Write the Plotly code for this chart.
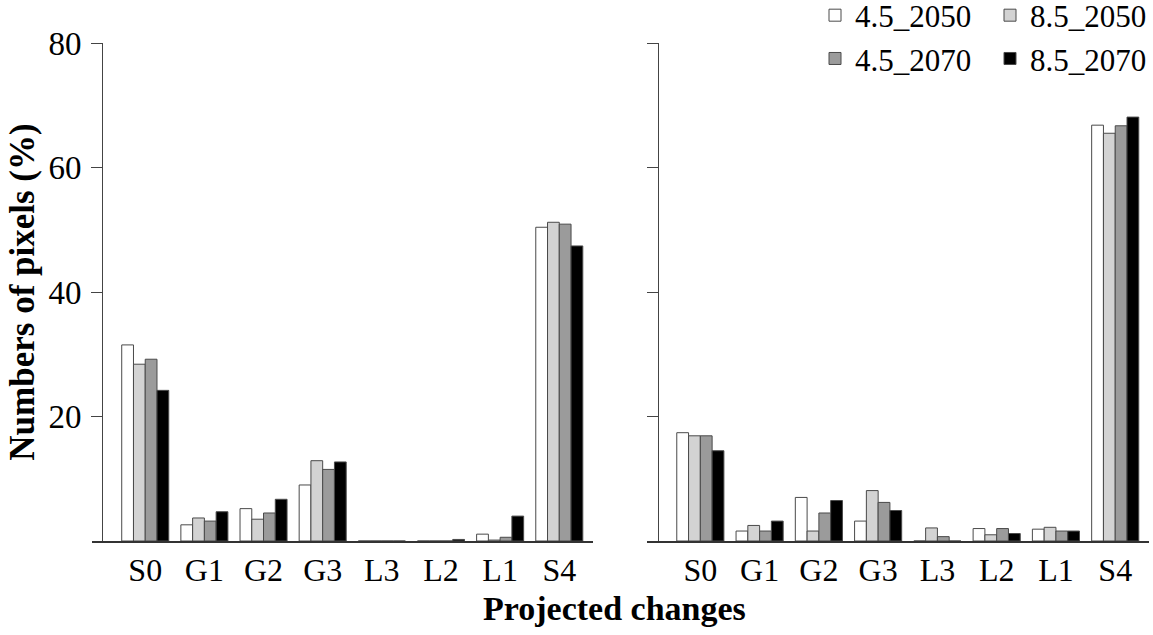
import plotly.graph_objects as go

categories = ["S0", "G1", "G2", "G3", "L3", "L2", "L1", "S4"]
series_names = ["4.5_2050", "8.5_2050", "4.5_2070", "8.5_2070"]

# left panel
left_45_2050 = [31.5, 2.6, 5.2, 9.0, 0, 0, 1.1, 50.4]
left_85_2050 = [28.4, 3.7, 3.5, 12.9, 0, 0, 0.15, 51.2]
left_45_2070 = [29.2, 3.2, 4.5, 11.5, 0, 0, 0.6, 50.9]
left_85_2070 = [24.2, 4.7, 6.7, 12.7, 0, 0.25, 4.0, 47.4]

# right panel
right_45_2050 = [17.4, 1.6, 7.0, 3.2, 0, 2.0, 1.9, 66.8]
right_85_2050 = [16.9, 2.5, 1.6, 8.1, 2.1, 1.0, 2.2, 65.5]
right_45_2070 = [16.9, 1.6, 4.5, 6.2, 0.7, 2.0, 1.6, 66.7]
right_85_2070 = [14.5, 3.2, 6.5, 4.9, 0, 1.2, 1.6, 68.1]

y_ticks = [20, 40, 60, 80]

colors = ["#ffffff", "#d3d3d3", "#9b9b9b", "#000000"]
legend_ids = ["legend", "legend2", "legend", "legend2"]
outline = "#4a4a4a"
FONT = "Liberation Serif, Times New Roman, serif"
W, H = 1153, 635

left_series = [left_45_2050, left_85_2050, left_45_2070, left_85_2070]
right_series = [right_45_2050, right_85_2050, right_45_2070, right_85_2070]

fig = go.Figure()
for i, (name, vals) in enumerate(zip(series_names, left_series)):
    fig.add_trace(go.Bar(
        x=categories, y=vals, name=name, xaxis="x", yaxis="y",
        marker=dict(color=colors[i], line=dict(color=outline, width=1)),
        legendgroup=name, showlegend=True, legend=legend_ids[i],
    ))
for i, (name, vals) in enumerate(zip(series_names, right_series)):
    fig.add_trace(go.Bar(
        x=categories, y=vals, name=name, xaxis="x2", yaxis="y2",
        marker=dict(color=colors[i], line=dict(color=outline, width=1)),
        legendgroup=name, showlegend=False,
    ))

xr = [-0.9, 7.57]
xcommon = dict(
    range=xr, showline=True, linecolor="#333333", linewidth=1.5,
    ticks="", showgrid=False, zeroline=False, fixedrange=True,
    tickfont=dict(family=FONT, size=32, color="#000000"),
    ticklabelstandoff=0,
)
ycommon = dict(
    range=[0, 80], tickvals=y_ticks, showline=True, linecolor="#444444",
    linewidth=1, ticks="outside", ticklen=11, tickcolor="#444444",
    showgrid=False, zeroline=False, anchor="free",
    tickfont=dict(family=FONT, size=33, color="#000000"),
)

legend_common = dict(
    xanchor="left", y=1.012, yanchor="middle", orientation="v",
    font=dict(family=FONT, size=31, color="#000000"),
    bgcolor="rgba(0,0,0,0)", tracegroupgap=0,
)

fig.update_layout(
    width=W, height=H,
    margin=dict(l=0, r=0, t=43, b=94, autoexpand=False),
    paper_bgcolor="white", plot_bgcolor="white",
    barmode="group", bargap=0.205, bargroupgap=0,
    font=dict(family=FONT, color="#000000"),
    xaxis=dict(domain=[92 / W, 593 / W], anchor="y", **xcommon),
    xaxis2=dict(domain=[647 / W, 1149 / W], anchor="y2", **xcommon),
    yaxis=dict(position=102 / W, ticklabelstandoff=3,
               title=dict(text="<b>Numbers of pixels (%)</b>",
                          font=dict(family=FONT, size=35, color="#000000"),
                          standoff=2),
               **ycommon),
    yaxis2=dict(position=658 / W, showticklabels=False, **ycommon),
    legend=dict(x=815 / W, **legend_common),
    legend2=dict(x=990 / W, **legend_common),
    annotations=[dict(
        text="<b>Projected changes</b>", xref="paper", yref="paper",
        x=614 / W, y=(541 - 608) / 498, xanchor="center", yanchor="middle",
        showarrow=False, font=dict(family=FONT, size=34, color="#000000"),
    )],
)

fig.write_html("out.html")
